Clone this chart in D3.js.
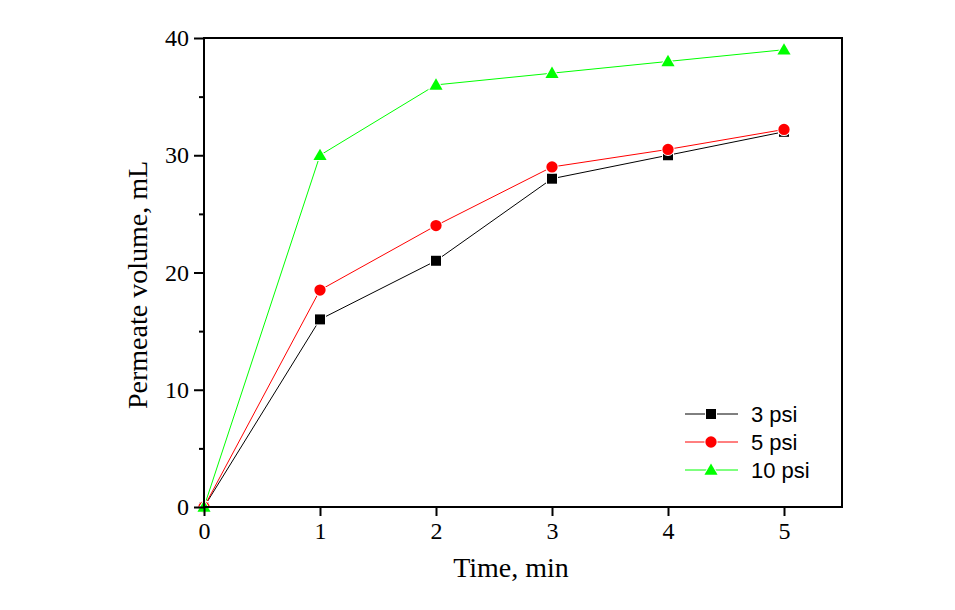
<!DOCTYPE html>
<html><head><meta charset="utf-8">
<script src="https://cdn.jsdelivr.net/npm/d3@7"></script>
<style>body{margin:0;background:#fff}</style>
</head><body>
<svg id="c" width="955" height="610"></svg>
<script>
const times = [0, 1, 2, 3, 4, 5];
const psi3 = [0, 16, 21, 28, 30, 32];
const psi5 = [0, 18.5, 24, 29, 30.5, 32.2];
const psi10 = [0, 30, 36, 37, 38, 39];
const seriesNames = ["3 psi", "5 psi", "10 psi"];
const xTicks = [0, 1, 2, 3, 4, 5];
const yTicks = [0, 10, 20, 30, 40];
const yMinor = [5, 15, 25, 35];

const SERIF = "'Liberation Serif'";
const SANS = "'Liberation Sans'";

const svg = d3.select("#c");
const L = 204, R = 842, T = 38, B = 507;
const x = d3.scaleLinear().domain([0, 5.5]).range([L, R]);
const y = d3.scaleLinear().domain([0, 40]).range([B, T]);

const series = [
  {name: seriesNames[0], vals: psi3, color: "#000000", sym: d3.symbolSquare, size: 100},
  {name: seriesNames[1], vals: psi5, color: "#ff0000", sym: d3.symbolCircle, size: 100},
  {name: seriesNames[2], vals: psi10, color: "#00ff00", sym: d3.symbolTriangle, size: 75}
];

// lines
const line = d3.line().x(d => x(d[0])).y(d => y(d[1]));
series.forEach(s => {
  svg.append("path").attr("d", line(times.map((t, i) => [t, s.vals[i]])))
    .attr("fill", "none").attr("stroke", s.color).attr("stroke-width", 1);
});
// markers
series.forEach(s => {
  svg.selectAll(null).data(times.map((t, i) => [t, s.vals[i]])).enter()
    .append("path")
    .attr("d", d3.symbol().type(s.sym).size(s.size))
    .attr("transform", d => `translate(${x(d[0])},${y(d[1]) + (s.sym === d3.symbolTriangle ? 1 : 0)})`)
    .attr("fill", s.color).attr("stroke", "#fff").attr("stroke-width", 2)
    .attr("paint-order", "stroke");
});

// frame
svg.append("rect").attr("x", L).attr("y", T).attr("width", R - L).attr("height", B - T)
  .attr("fill", "none").attr("stroke", "#000").attr("stroke-width", 2);

// x axis
const xAxis = d3.axisBottom(x).tickValues(xTicks).tickSize(9).tickPadding(6).tickFormat(d3.format("d"));
const gx = svg.append("g").attr("transform", `translate(0,${B})`).call(xAxis);
gx.select(".domain").remove();
gx.selectAll("line").attr("stroke-width", 2);
gx.selectAll("text").style("font-family", SERIF).style("font-size", "24px").attr("fill", "#000");

// y axis
const yAxis = d3.axisLeft(y).tickValues(yTicks).tickSize(10).tickPadding(5).tickFormat(d3.format("d"));
const gy = svg.append("g").attr("transform", `translate(${L},0)`).call(yAxis);
gy.select(".domain").remove();
gy.selectAll("line").attr("stroke-width", 2);
gy.selectAll("text").style("font-family", SERIF).style("font-size", "24px").attr("fill", "#000");
const gym = svg.append("g").attr("transform", `translate(${L},0)`)
  .call(d3.axisLeft(y).tickValues(yMinor).tickSize(5).tickFormat(""));
gym.select(".domain").remove();
gym.selectAll("line").attr("stroke-width", 2);

// titles
svg.append("text").attr("x", 511).attr("y", 577).attr("text-anchor", "middle")
  .style("font-family", SERIF).style("font-size", "28px")
  .text("Time, min");
svg.append("text").attr("transform", "translate(147,285) rotate(-90)").attr("text-anchor", "middle")
  .style("font-family", SERIF).style("font-size", "28px")
  .text("Permeate volume, mL");

// legend
const ly = [414, 442, 470];
series.forEach((s, i) => {
  const g = svg.append("g");
  g.append("line").attr("x1", 685).attr("x2", 738).attr("y1", ly[i]).attr("y2", ly[i])
    .attr("stroke", s.color).attr("stroke-width", 1);
  g.append("path").attr("d", d3.symbol().type(s.sym).size(s.size))
    .attr("transform", `translate(711,${ly[i] + (s.sym === d3.symbolTriangle ? 1 : 0)})`)
    .attr("fill", s.color).attr("stroke", "#fff").attr("stroke-width", 2).attr("paint-order", "stroke");
  g.append("text").attr("x", 751).attr("y", ly[i]).attr("dy", "0.36em")
    .style("font-family", SANS).style("font-size", "22px")
    .text(s.name);
});
</script>
</body></html>
